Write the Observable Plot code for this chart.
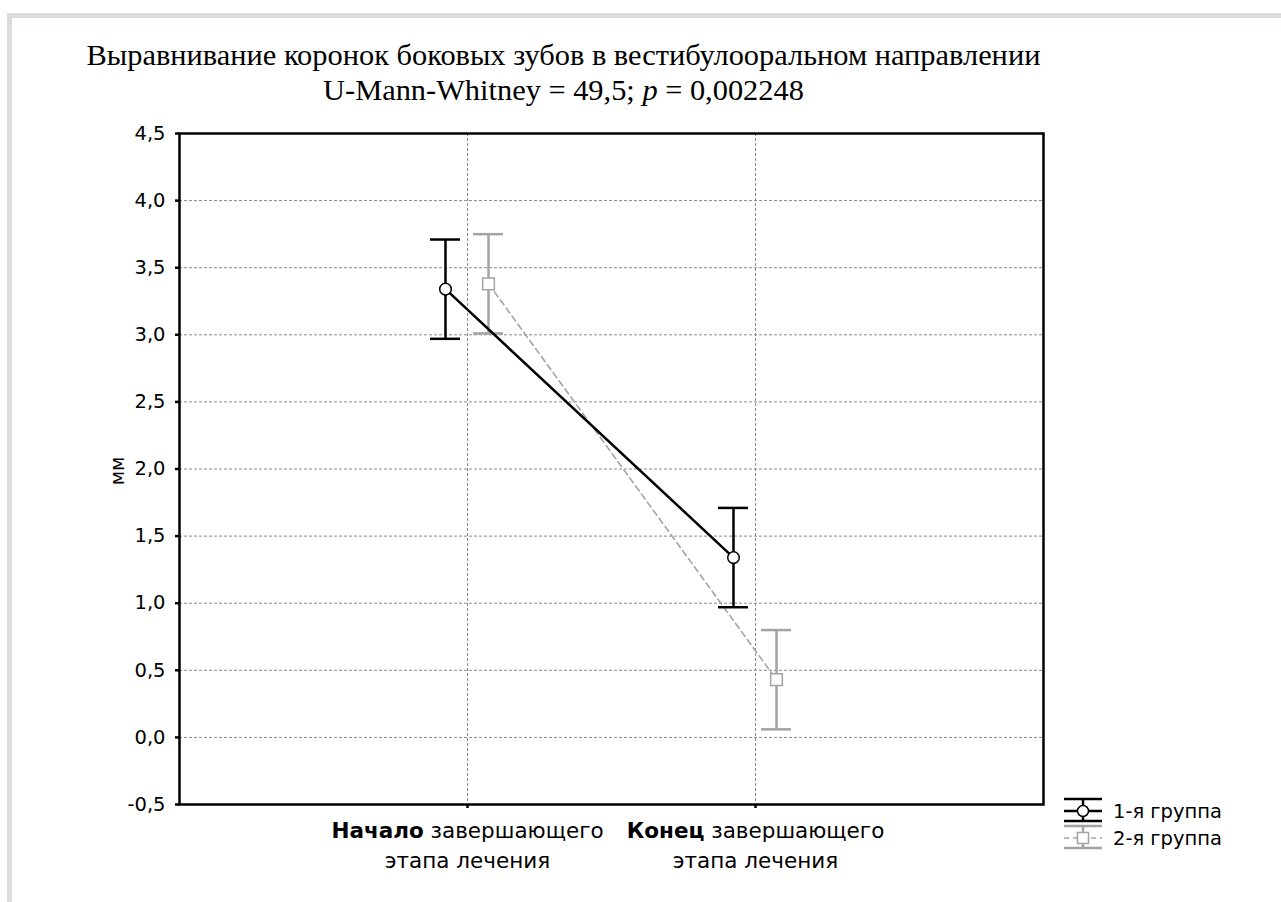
<!DOCTYPE html>
<html><head><meta charset="utf-8">
<script src="https://cdn.jsdelivr.net/npm/d3@7"></script>
<script src="https://cdn.jsdelivr.net/npm/@observablehq/plot@0.6"></script>
<style>
body{margin:0;background:#fff;}
#wrap{position:relative;width:1281px;height:902px;overflow:hidden;background:#fff;}
#border{position:absolute;left:7px;top:13px;right:0;bottom:0;border-top:5px solid #dadddd;border-left:5px solid #dadddd;}
#chart{position:absolute;left:0;top:0;}
#title{position:absolute;left:0;width:1127px;top:38px;text-align:center;font-family:"Liberation Serif","Times New Roman",serif;font-size:30.4px;line-height:35px;color:#000;}
#ylab{position:absolute;left:117px;top:471px;transform:translate(-50%,-50%) rotate(-90deg);font-family:"DejaVu Sans",Arial,sans-serif;font-size:19px;color:#000;white-space:nowrap;}
#legend{position:absolute;left:0;top:0;}
</style></head>
<body>
<div id="wrap">
  <div id="border"></div>
  <div id="chart"></div>
  <div id="title"></div>
  <div id="ylab"></div>
  <svg id="legend" width="1281" height="902"></svg>
</div>
<script>
// ---- data ----
const titleLine1 = "Выравнивание коронок боковых зубов в вестибулооральном направлении";
const titleLine2 = "U-Mann-Whitney = 49,5; <i>p</i> = 0,002248";
const stages = ["Начало завершающего этапа лечения", "Конец завершающего этапа лечения"];
const stageBold = ["Начало", "Конец"];
const groups = ["1-я группа", "2-я группа"];
const group1Mean = [3.34, 1.34];
const group1Low  = [2.97, 0.97];
const group1High = [3.71, 1.71];
const group2Mean = [3.38, 0.43];
const group2Low  = [3.01, 0.06];
const group2High = [3.75, 0.80];
const yTicks = [-0.5, 0, 0.5, 1, 1.5, 2, 2.5, 3, 3.5, 4, 4.5];
const yLabel = "мм";

// ---- build rows ----
const g1 = stages.map((s, i) => ({stage: s, group: groups[0], mean: group1Mean[i], lo: group1Low[i], hi: group1High[i]}));
const g2 = stages.map((s, i) => ({stage: s, group: groups[1], mean: group2Mean[i], lo: group2Low[i], hi: group2High[i]}));

document.getElementById("title").innerHTML = titleLine1 + "<br>" + titleLine2;
document.getElementById("ylab").textContent = yLabel;

const sans = "'DejaVu Sans', Arial, sans-serif";
const fmt = v => d3.format(".1f")(v).replace(".", ",").replace("−", "-");
const black = "#000", gray = "#a3a3a3";
const d1 = -22, d2 = 21;

const chart = Plot.plot({
  width: 1281, height: 902,
  marginLeft: 179, marginRight: 238, marginTop: 133, marginBottom: 98,
  style: {fontFamily: sans, fontSize: "19px", color: "#000", background: "transparent"},
  x: {type: "band", domain: stages, paddingInner: 0.896, paddingOuter: 0.948, align: 0.5},
  y: {domain: [-0.5, 4.5]},
  marks: [
    Plot.gridY(yTicks.slice(1, -1), {stroke: "#8a8a8a", strokeOpacity: 1, strokeDasharray: "3,2", strokeWidth: 1}),
    Plot.gridX(stages, {stroke: "#8a8a8a", strokeOpacity: 1, strokeDasharray: "3,2", strokeWidth: 1}),
    Plot.axisY(yTicks, {tickFormat: fmt, tickSize: 4, tickPadding: 10, label: null, strokeWidth: 2.5, fontSize: 19.5}),
    Plot.axisX(stages, {tickFormat: d => d.replace(" этапа", "\nэтапа"), tickSize: 4, tickPadding: 8, label: null, strokeWidth: 2.5, fontSize: 21.5, lineHeight: 1.4}),
    // group 2 (gray, dashed)
    Plot.line(g2, {x: "stage", y: "mean", stroke: gray, strokeWidth: 1.6, strokeDasharray: "6,4", dx: d2}),
    Plot.ruleX(g2, {x: "stage", y1: "lo", y2: "hi", stroke: gray, strokeWidth: 2.5, dx: d2}),
    Plot.tickY(g2, {x: "stage", y: "lo", stroke: gray, strokeWidth: 2.5, dx: d2}),
    Plot.tickY(g2, {x: "stage", y: "hi", stroke: gray, strokeWidth: 2.5, dx: d2}),
    Plot.dot(g2, {x: "stage", y: "mean", symbol: "square", r: 6.6, fill: "#fff", stroke: gray, strokeWidth: 1.5, dx: d2}),
    // group 1 (black, solid)
    Plot.line(g1, {x: "stage", y: "mean", stroke: black, strokeWidth: 2.5, dx: d1}),
    Plot.ruleX(g1, {x: "stage", y1: "lo", y2: "hi", stroke: black, strokeWidth: 2.5, dx: d1}),
    Plot.tickY(g1, {x: "stage", y: "lo", stroke: black, strokeWidth: 2.5, dx: d1}),
    Plot.tickY(g1, {x: "stage", y: "hi", stroke: black, strokeWidth: 2.5, dx: d1}),
    Plot.dot(g1, {x: "stage", y: "mean", r: 5.8, fill: "#fff", stroke: black, strokeWidth: 1.5, dx: d1}),
    Plot.frame({stroke: "#000", strokeWidth: 2.5})
  ]
});
document.getElementById("chart").appendChild(chart);

// bold first word of x tick labels
chart.querySelectorAll("tspan, text").forEach(el => {
  if (el.children.length) return;
  const t = el.textContent;
  const b = stageBold.find(w => t.startsWith(w + " "));
  if (b) {
    el.textContent = "";
    const bt = document.createElementNS("http://www.w3.org/2000/svg", "tspan");
    bt.setAttribute("font-weight", "bold");
    bt.textContent = b;
    el.appendChild(bt);
    el.appendChild(document.createTextNode(t.slice(b.length)));
  }
});

// legend
const lg = d3.select("#legend");
const sx0 = 1064, sx1 = 1102, cx = 1083;
function legendRow(y, color, dashed, sym, label) {
  const g = lg.append("g");
  g.append("line").attr("x1", sx0).attr("x2", sx1).attr("y1", y - 12).attr("y2", y - 12).attr("stroke", color).attr("stroke-width", 2.5);
  g.append("line").attr("x1", sx0).attr("x2", sx1).attr("y1", y + 10).attr("y2", y + 10).attr("stroke", color).attr("stroke-width", 2.5);
  g.append("line").attr("x1", cx).attr("x2", cx).attr("y1", y - 12).attr("y2", y + 10).attr("stroke", color).attr("stroke-width", 2.5);
  g.append("line").attr("x1", sx0).attr("x2", sx1).attr("y1", y).attr("y2", y).attr("stroke", color)
    .attr("stroke-width", dashed ? 1.6 : 2.5).attr("stroke-dasharray", dashed ? "5,4" : null);
  if (sym === "circle") g.append("circle").attr("cx", cx).attr("cy", y).attr("r", 5.5).attr("fill", "#fff").attr("stroke", color).attr("stroke-width", 1.5);
  else g.append("rect").attr("x", cx - 5.5).attr("y", y - 5.5).attr("width", 11).attr("height", 11).attr("fill", "#fff").attr("stroke", color).attr("stroke-width", 1.5);
  g.append("text").attr("x", 1113).attr("y", y).attr("dy", "0.35em").attr("font-family", sans).attr("font-size", 19.5).attr("fill", "#000").text(label);
}
legendRow(811, black, false, "circle", groups[0]);
legendRow(838, gray, true, "square", groups[1]);
</script>
</body></html>
